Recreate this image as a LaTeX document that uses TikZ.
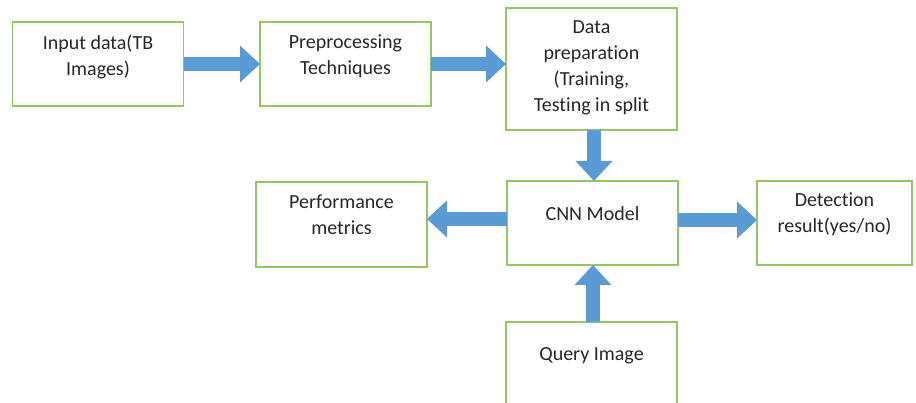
\documentclass[tikz,border=0pt]{standalone}
\usepackage{fontspec}
\setmainfont{Carlito}[Ligatures=NoCommon]
\usetikzlibrary{positioning}
\usetikzlibrary{arrows.meta}
\definecolor{boxgreen}{RGB}{146,200,100}
\definecolor{arrblue}{RGB}{91,155,213}
\tikzset{
    mybox/.style = {rectangle, draw=boxgreen, line width=1.4pt, minimum width=171pt, minimum height=84pt, inner sep=0pt, outer sep=0pt},
    mytxt/.style = {anchor=north, align=center, font=\fontsize{20}{26}\selectfont, text=black!85, inner sep=0pt},
    arr/.style = {-{Triangle[width=37pt,length=20pt,line width=0pt]}, line width=14pt, color=arrblue},
}

\begin{document}
\begin{tikzpicture}[x=1pt,y=-1pt]
\useasboundingbox (0,0) rectangle (916,403);
\node[mybox, label={[mytxt,yshift=-13pt]north:Input data(TB\\Images)}] at (98, 64) (inp) {};
\node[mybox, label={[mytxt,yshift=-13pt]north:Preprocessing\\Techniques}] at (345.5, 64) (pre) {};
\node[mybox, minimum height=122pt, label={[mytxt,yshift=-12pt]north:Data\\preparation\\(Training,\\Testing in split}] at (591.5, 69) (prep) {};
\node[mybox, label={[mytxt,yshift=-25pt]north:CNN Model}] at (592.5, 223) (cnn) {};
\node[mybox, minimum height=85pt, label={[mytxt,yshift=-13pt]north:Performance\\metrics}] at (341.5, 224.5) (perf) {};
\node[mybox, minimum width=155pt, label={[mytxt,yshift=-12pt]north:Detection\\result(yes/no)}] at (834.5, 223) (det) {};
\node[mybox, minimum height=98pt, label={[mytxt,yshift=-25pt]north:Query Image}] at (591.5, 371) (qry) {};
%
\draw[arr] (inp) -- (pre);
\draw[arr] (pre.east) -- (pre.east -| prep.west);
\draw[arr] (prep.south -| 594,0) -- (cnn.north -| 594,0);
\draw[arr] (cnn.west |- 0,219) -- (perf.east |- 0,219);
\draw[arr] (cnn.east |- 0,220) -- (det.west |- 0,220);
\draw[arr] (qry.north -| 593,0) -- (cnn.south -| 593,0);

\end{tikzpicture}
\end{document}
